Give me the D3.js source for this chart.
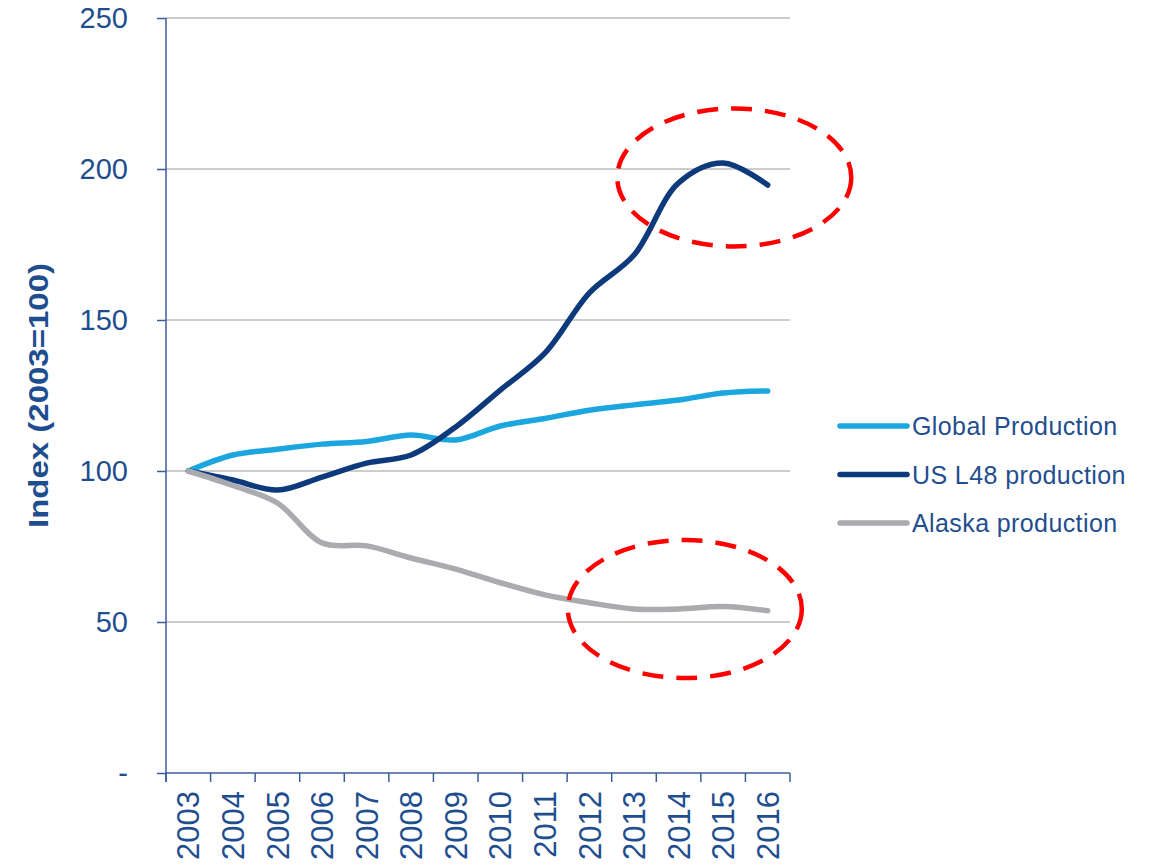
<!DOCTYPE html>
<html>
<head>
<meta charset="utf-8">
<script src="https://cdn.jsdelivr.net/npm/d3@7"></script>
<style>
    body { margin: 0; background: #ffffff; }
    svg { display: block; font-family: "Liberation Sans", Arial, sans-serif; }
</style>
</head>
<body>
<svg id="chart"></svg>
<script>

// DATA

const years = ["2003", "2004", "2005", "2006", "2007", "2008", "2009",
               "2010", "2011", "2012", "2013", "2014", "2015", "2016"];

const globalProduction = [100, 105.3, 107.2, 108.9, 109.8, 111.9, 110.3,
                          114.9, 117.4, 120.1, 121.9, 123.5, 125.8, 126.5];

const usL48Production = [100, 97, 93.7, 98, 102.6, 105.3, 114.6,
                         126.8, 139, 159, 171.5, 195.4, 202, 194.7];

const alaskaProduction = [100, 95.2, 89.4, 76.2, 75.2, 71.2, 67.5,
                          63, 59, 56.4, 54.3, 54.3, 55.1, 53.7];

const seriesNames = ["Global Production", "US L48 production", "Alaska production"];

const yTicks = [0, 50, 100, 150, 200, 250];

// highlighted areas (year position, index value)
const highlights = [
    { year: 2015.25, value: 197.2 },
    { year: 2014.14, value: 54.3 }
];


// SETUP

const width = 1151;
const height = 866;

const svg = d3.select("#chart")
    .attr("width", width)
    .attr("height", height);

const textColor = "#1f4e8f";
const axisColor = "#3a5c9c";
const colors = ["#1ba6e0", "#0d3a7c", "#a9abae"];

const plotLeft = 166;
const plotRight = 790;
const plotTop = 18;
const plotBottom = 773;

const x = d3.scaleBand()
    .domain(years)
    .range([plotLeft, plotRight]);

const y = d3.scaleLinear()
    .domain([0, 250])
    .range([plotBottom, plotTop]);

// year -> band centre, used for the annotation ellipses
const xYear = d3.scaleLinear()
    .domain([2003, 2016])
    .range([x("2003") + x.bandwidth() / 2, x("2016") + x.bandwidth() / 2]);


// GRIDLINES

svg.append("g")
    .selectAll("line")
    .data(yTicks.filter(d => d > 0))
    .join("line")
    .attr("x1", plotLeft)
    .attr("x2", plotRight)
    .attr("y1", d => y(d))
    .attr("y2", d => y(d))
    .attr("stroke", "#bdbdbd")
    .attr("stroke-width", 1.3);


// Y AXIS

const yAxis = d3.axisLeft(y)
    .tickValues(yTicks)
    .tickFormat(d => d === 0 ? "-" : d)
    .tickSize(9)
    .tickPadding(29);

const yAxisGroup = svg.append("g")
    .attr("transform", `translate(${plotLeft},0)`)
    .call(yAxis);

yAxisGroup.select(".domain")
    .attr("stroke", axisColor)
    .attr("stroke-width", 1.5)
    .attr("d", `M0,${plotTop}V${plotBottom + 9}`);

yAxisGroup.selectAll(".tick line")
    .attr("stroke", axisColor)
    .attr("stroke-width", 1.5);

yAxisGroup.selectAll(".tick text")
    .attr("fill", textColor)
    .attr("font-size", 29)
    .attr("font-family", "Liberation Sans, Arial, sans-serif");

svg.append("text")
    .attr("transform", `translate(48,${(263 + 528) / 2}) rotate(-90)`)
    .attr("text-anchor", "middle")
    .attr("fill", textColor)
    .attr("font-size", 28)
    .attr("font-weight", "bold")
    .attr("textLength", 265)
    .attr("lengthAdjust", "spacingAndGlyphs")
    .text("Index (2003=100)");


// X AXIS

svg.append("line")
    .attr("x1", plotLeft)
    .attr("x2", plotRight)
    .attr("y1", plotBottom)
    .attr("y2", plotBottom)
    .attr("stroke", axisColor)
    .attr("stroke-width", 1.5);

const boundaries = years.map(d => x(d)).concat([plotRight]);

svg.append("g")
    .selectAll("line")
    .data(boundaries)
    .join("line")
    .attr("x1", d => d)
    .attr("x2", d => d)
    .attr("y1", plotBottom)
    .attr("y2", plotBottom + 9)
    .attr("stroke", axisColor)
    .attr("stroke-width", 1.5);

svg.append("g")
    .selectAll("text")
    .data(years)
    .join("text")
    .attr("transform", d => `translate(${x(d) + x.bandwidth() / 2},${plotBottom + 18}) rotate(-90)`)
    .attr("text-anchor", "end")
    .attr("dy", "0.36em")
    .attr("fill", textColor)
    .attr("font-size", 31)
    .text(d => d);


// LINES

const allSeries = [globalProduction, usL48Production, alaskaProduction];

const line = d3.line()
    .x((d, i) => x(years[i]) + x.bandwidth() / 2)
    .y(d => y(d))
    .curve(d3.curveCatmullRom.alpha(0.5));

svg.append("g")
    .selectAll("path")
    .data(allSeries)
    .join("path")
    .attr("d", d => line(d))
    .attr("fill", "none")
    .attr("stroke", (d, i) => colors[i])
    .attr("stroke-width", 5.5)
    .attr("stroke-linecap", "round")
    .attr("stroke-linejoin", "round");


// LEGEND

const legend = svg.append("g")
    .selectAll("g")
    .data(seriesNames)
    .join("g")
    .attr("transform", (d, i) => `translate(840,${426 + i * 48.5})`);

legend.append("line")
    .attr("x1", 0)
    .attr("x2", 67)
    .attr("stroke", (d, i) => colors[i])
    .attr("stroke-width", 5.5)
    .attr("stroke-linecap", "round");

legend.append("text")
    .attr("x", 72)
    .attr("dy", "0.36em")
    .attr("fill", textColor)
    .attr("font-size", 25)
    .attr("letter-spacing", 0.4)
    .text(d => d);


// HIGHLIGHT ELLIPSES

svg.append("g")
    .selectAll("ellipse")
    .data(highlights)
    .join("ellipse")
    .attr("cx", d => xYear(d.year))
    .attr("cy", d => y(d.value))
    .attr("rx", 117)
    .attr("ry", 69)
    .attr("fill", "none")
    .attr("stroke", "#ff0000")
    .attr("stroke-width", 4.5)
    .attr("stroke-dasharray", "21 13");

</script>
</body>
</html>
